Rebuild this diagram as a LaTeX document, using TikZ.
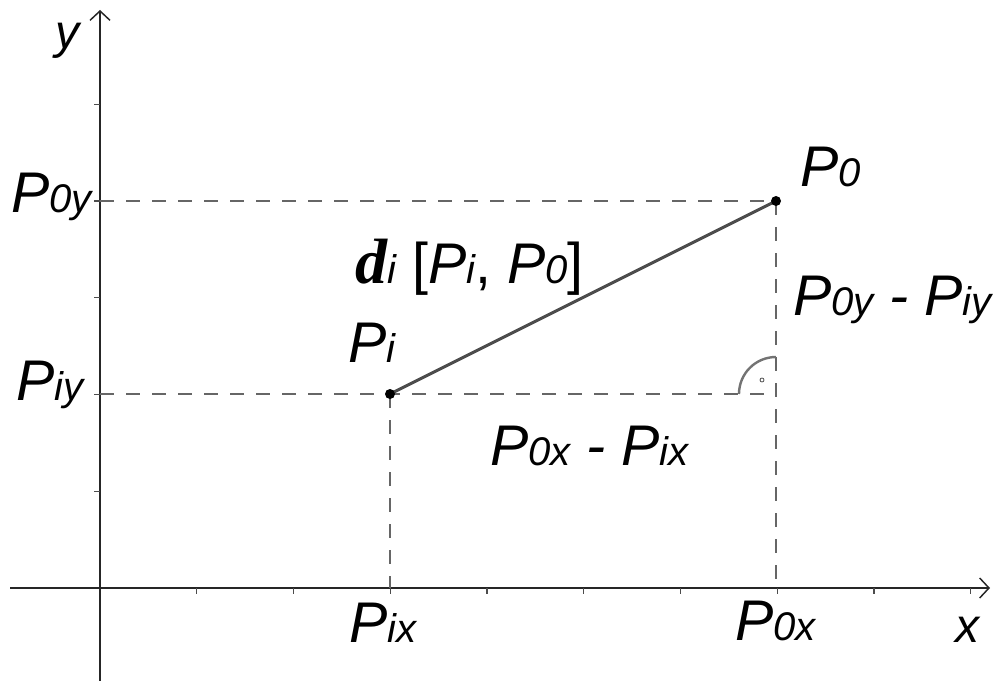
\documentclass[tikz,border=0pt]{standalone}
\usepackage{fontspec}
\setmainfont{Liberation Sans}
\newfontfamily\serifbi{Liberation Serif}
\usetikzlibrary{arrows.meta}
\newcommand\bigf{\fontsize{43}{46}\selectfont}
\newcommand\smf{\fontsize{30}{32}\selectfont}
\newcommand\lblP[1]{{\bigf P}{\smf #1}}
\begin{document}
\begin{tikzpicture}[x=0.75pt,y=-0.75pt,
  axis/.style={line width=1.3pt, black!85, -{Straight Barb[length=7pt,width=15pt,line width=1.1pt]}},
  tickmark/.style={line width=0.9pt, black!70},
  guide/.style={line width=1.6pt, black!60, dash pattern=on 10.5pt off 9pt},
  seg/.style={line width=2.2pt, black!70},
  dot/.style={circle, fill=black, inner sep=0pt, minimum size=7.5pt},
  rightangle/.style={line width=1.8pt, black!55},
  lab/.style={inner sep=0pt, anchor=base west, font=\itshape},
  labr/.style={inner sep=0pt, anchor=base east, font=\itshape}]
\useasboundingbox (0,0) rectangle (1007,681);
% axes
\coordinate (O) at (100,588);
\coordinate (xs) at (10,588);
\coordinate (xe) at (990,588);
\coordinate (ys) at (100,681);
\coordinate (ye) at (100,10);
\draw[axis] (xs) -- (xe);
\draw[axis] (ys) -- (ye);
\foreach \k in {1,...,9}
  \draw[tickmark] ({100+96.75*\k},588) -- ({100+96.75*\k},594);
\foreach \k in {1,...,5}
  \draw[tickmark] (94,{588-96.75*\k}) -- (100,{588-96.75*\k});
% points
\coordinate (Pi) at (390,394);
\coordinate (P0) at (776,201);
\coordinate (R) at (776,394);
% guides
\draw[guide] (O |- P0) -- (P0);
\draw[guide] (O |- Pi) -- (R);
\draw[guide] (P0) -- (P0 |- O);
\draw[guide] (Pi) -- (Pi |- O);
% right angle
\draw[rightangle] (R) ++(-37,0) arc[start angle=180, end angle=270, radius=37];
\draw[line width=0.6pt, black!70] (R) ++(-14,-14) circle[radius=2];
% segment
\draw[seg] (Pi) -- (P0);
\node[dot] (dPi) at (Pi) {};
\node[dot] (dP0) at (P0) {};
% labels
\node[lab] (ylab) at (55,49) {\fontsize{36}{36}\selectfont y};
\node[lab] (xlab) at (955,642) {\fontsize{36}{36}\selectfont x};
\node[labr] (P0ylab) at (92,213) {\lblP{0y}};
\node[labr] (Piylab) at (84,400) {\lblP{iy}};
\node[lab] (Pixlab) at (349,642) {\lblP{ix}};
\node[lab] (P0xlab) at (735,640) {\lblP{0x}};
\node[lab] (dxlab) at (490,465) {\lblP{0x}{\bigf\ -\ }\lblP{ix}};
\node[lab] (dylab) at (793,315) {\lblP{0y}{\bigf\ -\ }\lblP{iy}};
\node[lab] (P0lab) at (800,187) {\lblP{0}};
\node[lab] (Pilab) at (348,362) {\lblP{i}};
\node[lab] (dlab) at (355,283) {{\serifbi\bfseries\itshape\fontsize{48}{50}\selectfont d}{\smf i}{\bigf\ \upshape[}\lblP{i}{\bigf\upshape,\ }\lblP{0}{\bigf\upshape]}};
\end{tikzpicture}
\end{document}
